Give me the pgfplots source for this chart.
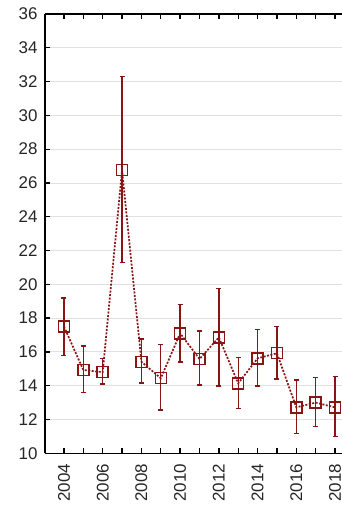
\documentclass[border=0pt]{standalone}
\usepackage{pgfplots}
\pgfplotsset{compat=1.18}
\usepackage{pgfplotstable}
\usepackage{fontspec}
\setmainfont{Liberation Sans}
\definecolor{dred}{RGB}{136,20,20}
\definecolor{gridc}{RGB}{225,225,225}
\pgfplotstableread{
x y ep em
2004 17.50 1.70 1.70
2005 14.93 1.42 1.33
2006 14.80 0.80 0.70
2007 26.76 5.54 5.46
2008 15.42 1.34 1.26
2009 14.44 2.01 1.88
2010 17.10 1.70 1.70
2011 15.58 1.66 1.54
2012 16.86 2.90 2.88
2013 14.14 1.54 1.48
2014 15.62 1.72 1.64
2015 15.92 1.57 1.52
2016 12.72 1.62 1.54
2017 13.00 1.47 1.43
2018 12.72 1.81 1.74
}\datatab
\begin{document}
\begin{tikzpicture}
\begin{axis}[
  scale only axis,
  width=297bp, height=439.3bp,
  xmin=2003.02, xmax=2018.36,
  ymin=10, ymax=36,
  axis x line*=box,
  axis y line*=left,
  axis line style={black, line width=1.3bp},
  tick align=inside,
  major tick length=5bp,
  minor tick length=5bp,
  every tick/.style={black, line width=1.3bp},
  xtick={2004,2006,...,2018},
  minor xtick={2005,2007,...,2017},
  ytick={10,12,...,36},
  ymajorgrids,
  major grid style={gridc, line width=0.9bp},
  /pgf/number format/1000 sep={},
  /pgf/number format/assume math mode=true,
  tick label style={font=\fontsize{17}{17}\selectfont, text=black!85},
  xticklabel style={rotate=90, anchor=east, xshift=0bp},
  xticklabel shift=7bp,
  yticklabel shift=4bp,
  clip=false,
]
\coordinate (SW) at (rel axis cs:0,0);
\coordinate (NE) at (rel axis cs:1,1);
\addplot[draw=none, mark=none, forget plot,
  error bars/.cd, y dir=both, y explicit,
  error bar style={dred, line width=1.4bp},
  error mark options={dred, line width=1.4bp, mark size=2.5bp, rotate=90}]
  table[x=x, y=y, y error plus=ep, y error minus=em] {\datatab};
\addplot[dred, line width=1.7bp, dash pattern=on 2bp off 1.5bp, mark=square,
  mark size=5.5bp, mark options={solid, line width=1.4bp, fill=none}]
  table[x=x, y=y] {\datatab};
\end{axis}
\pgfresetboundingbox
\path[use as bounding box] ([shift={(-45bp,-55.7bp)}]SW) rectangle ([shift={(0bp,14bp)}]NE);
\end{tikzpicture}
\end{document}
